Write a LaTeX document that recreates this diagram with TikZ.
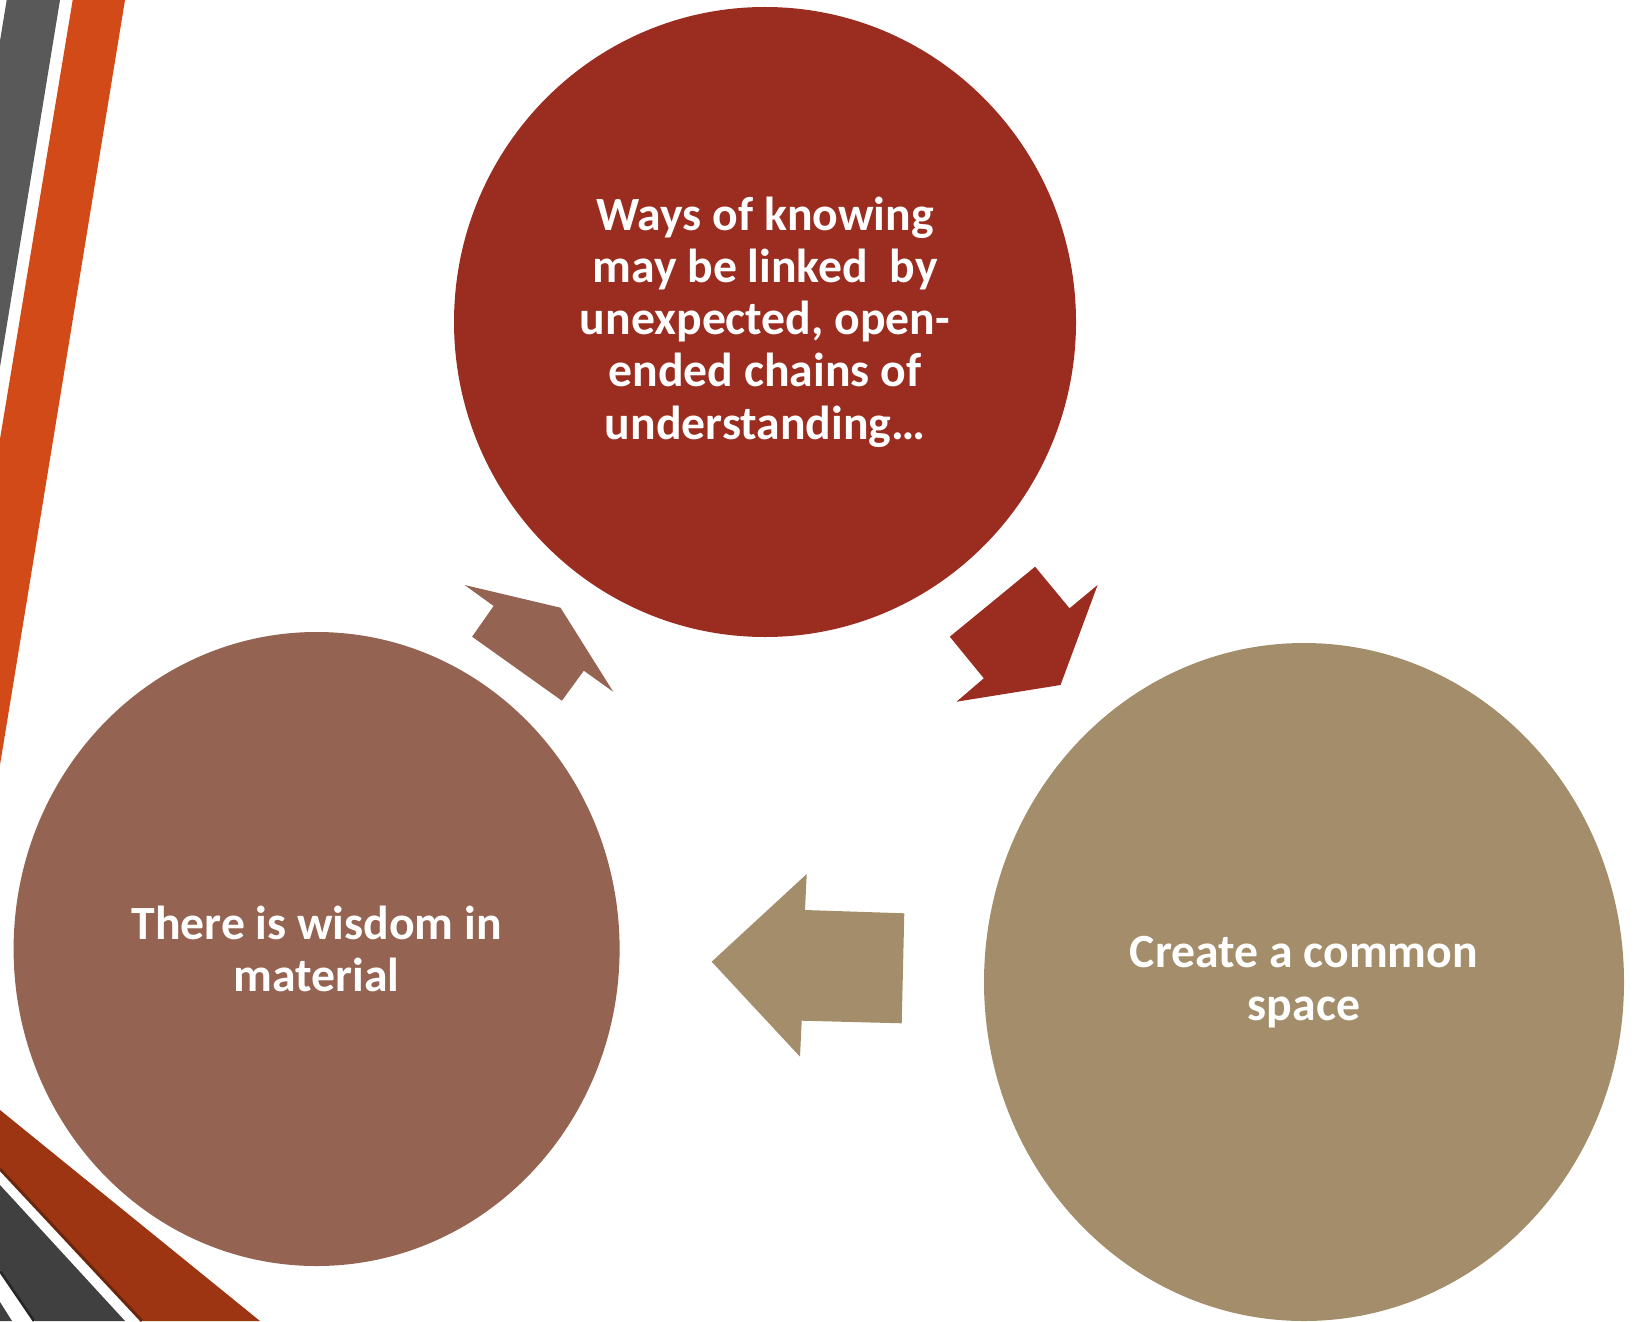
\documentclass[tikz,border=0pt]{standalone}
\usepackage{fontspec}
\setmainfont{Carlito}
\usetikzlibrary{shapes.geometric}
\definecolor{topc}{RGB}{155,44,32}
\definecolor{leftc}{RGB}{148,99,81}
\definecolor{rightc}{RGB}{163,141,106}
\definecolor{stripegray}{RGB}{89,89,89}
\definecolor{stripeorange}{RGB}{210,74,24}
\definecolor{botorange}{RGB}{158,53,18}
\definecolor{botdark}{RGB}{107,38,14}
\definecolor{botgray}{RGB}{64,64,64}
\definecolor{botblack}{RGB}{38,38,38}
\tikzset{
  bubble/.style={ellipse, inner sep=0pt, text=white,
    font=\bfseries\fontsize{23.85}{26.15}\selectfont, align=center},
}
\begin{document}
\begin{tikzpicture}[x=0.5pt,y=-0.5pt]
\useasboundingbox (0,0) rectangle (1641,1321);
% top-left stripes
\fill[stripegray] (6.7,0) -- (60,0) -- (0,367) -- (0,41) -- cycle;
\fill[stripeorange] (72.7,0) -- (125,0) -- (0,765) -- (0,439) -- cycle;
% bottom-left stripes
\fill[botorange] (0,1110) -- (260,1321) -- (143,1321) -- (0,1170) -- cycle;
\draw[botdark, line width=1.5pt] (0,1169) -- (142,1321);
\fill[botgray] (0,1185) -- (125,1321) -- (35,1321) -- (0,1270) -- cycle;
\draw[botblack, line width=1.3pt] (0,1271) -- (34,1321);
\fill[botgray] (0,1302) -- (0,1321) -- (12,1321) -- cycle;
% circles
\node[bubble, fill=topc, minimum width=311pt, minimum height=315pt] (know) at (765,322)
  {Ways of knowing\\may be linked~~by\\unexpected, open-\\ended chains of\\understanding…};
\node[bubble, fill=leftc, minimum width=303pt, minimum height=317pt] (wisdom) at (316.6,949)
  {There is wisdom in\\material};
\node[bubble, fill=rightc, minimum width=320pt, minimum height=339pt] (space) at (1304,982)
  {Create a common\\space};
% arrows
\fill[leftc] (464.6,585) -- (560.5,607.7) -- (613.2,691.7) -- (583.8,670.7) -- (561.9,700.7) -- (472.1,636.7) -- (493.6,606) -- cycle;
\fill[topc] (949.8,636.7) -- (1035.1,566.7) -- (1069.5,608.3) -- (1097.6,585) -- (1060.5,685) -- (956.5,701.7) -- (983.8,678.3) -- cycle;
\fill[rightc] (711.7,961.7) -- (806.7,874) -- (805,910) -- (904.3,913.3) -- (901.7,1023.3) -- (801.7,1020.7) -- (800,1056.7) -- cycle;
\end{tikzpicture}
\end{document}
